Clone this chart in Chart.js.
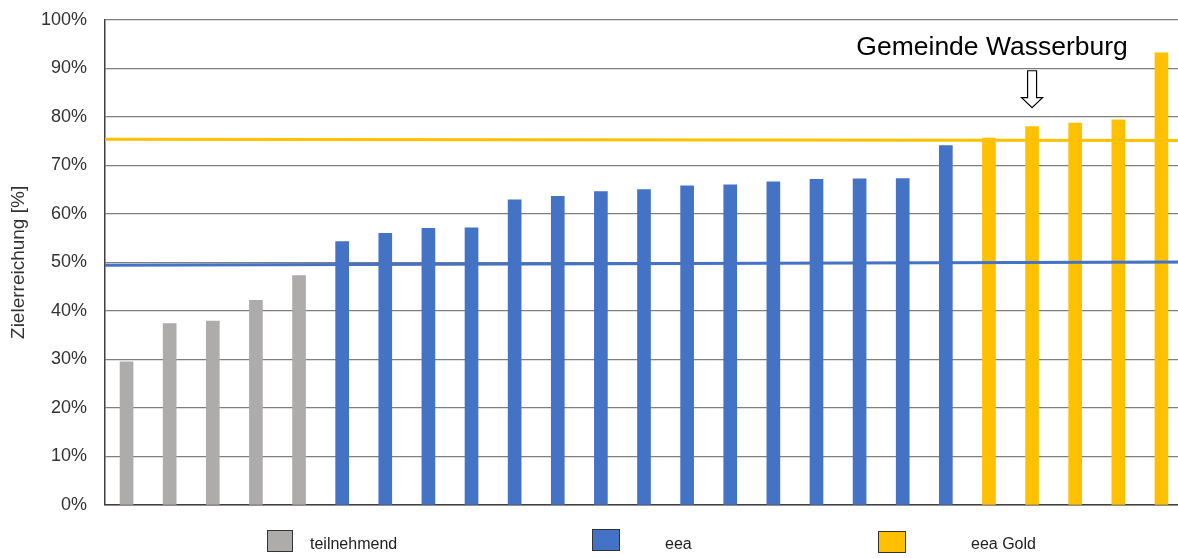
<!DOCTYPE html>
<html>
<head>
<meta charset="utf-8">
<script src="https://cdn.jsdelivr.net/npm/chart.js@4"></script>
<style>
    html, body { margin: 0; padding: 0; background: #fff; overflow: hidden; }
    #wrap { position: relative; width: 1183px; height: 558px; overflow: hidden; }
    #chart { position: absolute; left: 0; top: -9px; }
    .lg-box { position: absolute; border: 1.5px solid #333; box-sizing: border-box; }
    .lg-text { position: absolute; font: 16px 'Liberation Sans', Arial, sans-serif; color: #222; }
</style>
</head>
<body>
<div id="wrap">
    <canvas id="chart" width="1183" height="567"></canvas>
</div>
<script>
// Werte je Gruppe (Zielerreichung in %)
const teilnehmend = [29.5, 37.4, 37.9, 42.2, 47.3];
const eea = [54.3, 56.0, 57.0, 57.1, 62.9, 63.6, 64.6, 65.0, 65.8, 66.0, 66.6, 67.1, 67.2, 67.3, 74.1];
const eeaGold = [75.6, 78.0, 78.7, 79.4, 93.2];

// Schwellenlinien (links / rechts)
const eeaLine = [49.4, 50.1];
const goldLine = [75.4, 75.1];

const yTicks = [0, 10, 20, 30, 40, 50, 60, 70, 80, 90, 100];
const groupNames = ['teilnehmend', 'eea', 'eea Gold'];
const markedIndex = 21; // Gemeinde Wasserburg

const colors = ['#AEABAB', '#4472C4', '#FFC000'];

const total = teilnehmend.length + eea.length + eeaGold.length;
const labels = Array.from({ length: total }, (_, i) => String(i + 1));

function padGroup(values, start) {
    const arr = new Array(total).fill(null);
    values.forEach((v, i) => { arr[start + i] = v; });
    return arr;
}

Chart.defaults.font.family = "'Liberation Sans', Arial, sans-serif";

// Pfeil + Beschriftung
const annotationPlugin = {
    id: 'wasserburg',
    afterDatasetsDraw(chart) {
        const ctx = chart.ctx;
        const x = chart.scales.x.getPixelForValue(markedIndex);
        const y = chart.scales.y;
        ctx.save();
        ctx.fillStyle = '#000';
        ctx.font = "25px 'Liberation Sans', Arial, sans-serif";
        ctx.textAlign = 'center';
        ctx.textBaseline = 'alphabetic';
        ctx.translate(x - 40, y.getPixelForValue(92.7));
        ctx.scale(1.06, 1);
        ctx.fillText('Gemeinde Wasserburg', 0, 0);
        ctx.setTransform(1, 0, 0, 1, 0, 0);

        const top = y.getPixelForValue(89.5);
        const tip = y.getPixelForValue(81.9);
        const headY = tip - 10;
        ctx.beginPath();
        ctx.moveTo(x - 4.5, top);
        ctx.lineTo(x + 4.5, top);
        ctx.lineTo(x + 4.5, headY);
        ctx.lineTo(x + 10.5, headY);
        ctx.lineTo(x, tip);
        ctx.lineTo(x - 10.5, headY);
        ctx.lineTo(x - 4.5, headY);
        ctx.closePath();
        ctx.fillStyle = '#fff';
        ctx.fill();
        ctx.lineWidth = 1.2;
        ctx.strokeStyle = '#000';
        ctx.stroke();
        ctx.restore();
    }
};

const barBase = { type: 'bar', barThickness: 13, grouped: false, order: 2, borderWidth: 0 };

new Chart(document.getElementById('chart').getContext('2d'), {
    data: {
        labels: labels,
        datasets: [
            Object.assign({}, barBase, { label: groupNames[0], data: padGroup(teilnehmend, 0), backgroundColor: colors[0] }),
            Object.assign({}, barBase, { label: groupNames[1], data: padGroup(eea, teilnehmend.length), backgroundColor: colors[1] }),
            Object.assign({}, barBase, { label: groupNames[2], data: padGroup(eeaGold, teilnehmend.length + eea.length), backgroundColor: colors[2] }),
            {
                type: 'line', xAxisID: 'xLine', order: 0,
                data: eeaLine.map((v, i) => ({ x: i, y: v })),
                borderColor: colors[1], borderWidth: 3, pointRadius: 0, tension: 0
            },
            {
                type: 'line', xAxisID: 'xLine', order: 0,
                data: goldLine.map((v, i) => ({ x: i, y: v })),
                borderColor: colors[2], borderWidth: 3, pointRadius: 0, tension: 0
            }
        ]
    },
    options: {
        responsive: false,
        animation: false,
        layout: { padding: { top: 9, bottom: 53, left: 0, right: 0 } },
        plugins: { legend: { display: false }, tooltip: { enabled: false } },
        scales: {
            x: {
                type: 'category',
                offset: true,
                grid: { display: false, drawTicks: false },
                border: { display: true, color: '#404040', width: 1.5 },
                ticks: { display: false }
            },
            xLine: {
                type: 'linear', min: 0, max: 1, display: false
            },
            y: {
                min: 0, max: 100,
                afterBuildTicks(scale) { scale.ticks = yTicks.map(v => ({ value: v })); },
                afterFit(scale) { scale.width = 105; },
                grid: { color: '#7f7f7f', lineWidth: 1.2, drawTicks: false },
                border: { display: true, color: '#404040', width: 1.5 },
                ticks: {
                    padding: 18,
                    color: '#333',
                    font: { size: 18 },
                    callback: v => v + '%'
                },
                title: {
                    display: true,
                    text: 'Zielerreichung [%]',
                    color: '#333',
                    font: { size: 19 },
                    padding: { top: 7, bottom: 0 }
                }
            }
        }
    },
    plugins: [annotationPlugin]
});

// Legende unten
const legendPos = [
    { box: [267, 530, 26, 22], text: [310, 535] },
    { box: [592, 529, 28, 22], text: [665, 535] },
    { box: [878, 531, 28, 22], text: [971, 535] }
];
const wrap = document.getElementById('wrap');
groupNames.forEach((name, i) => {
    const b = document.createElement('div');
    b.className = 'lg-box';
    const p = legendPos[i];
    b.style.left = p.box[0] + 'px';
    b.style.top = p.box[1] + 'px';
    b.style.width = p.box[2] + 'px';
    b.style.height = p.box[3] + 'px';
    b.style.background = colors[i];
    wrap.appendChild(b);
    const t = document.createElement('div');
    t.className = 'lg-text';
    t.style.left = p.text[0] + 'px';
    t.style.top = p.text[1] + 'px';
    t.textContent = name;
    wrap.appendChild(t);
});
</script>
</body>
</html>
